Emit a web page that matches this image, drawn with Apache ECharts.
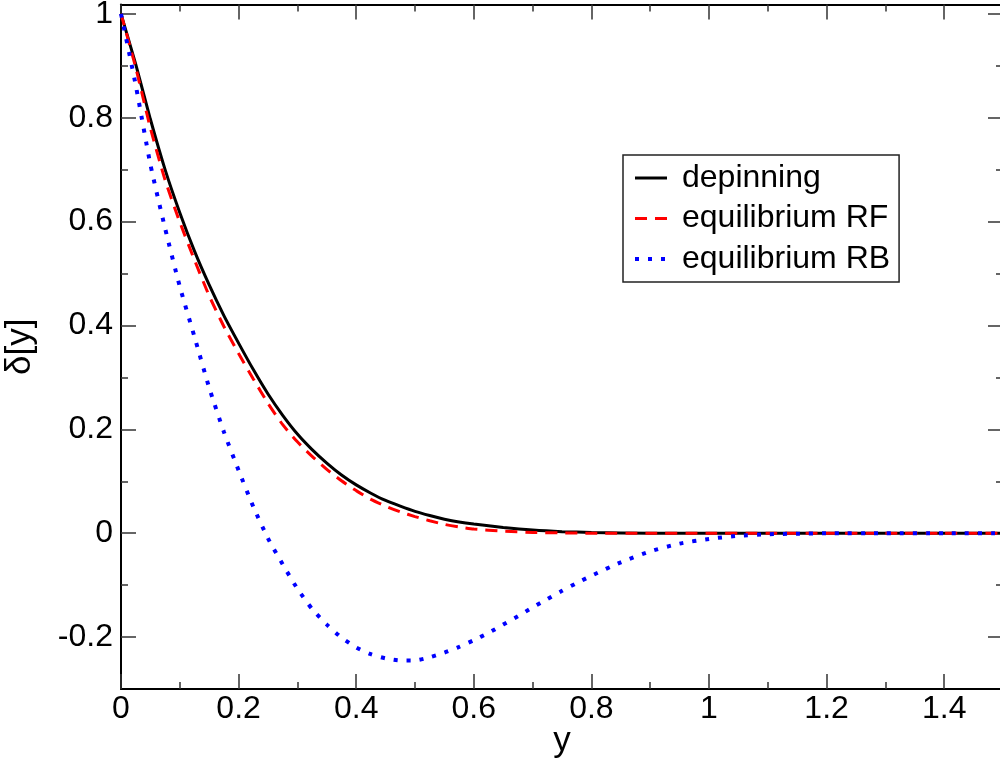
<!DOCTYPE html>
<html>
<head>
<meta charset="utf-8">
<script src="https://cdn.jsdelivr.net/npm/echarts@6/dist/echarts.min.js"></script>
<style>
html,body{margin:0;padding:0;background:#fff;}
#chart{width:1000px;height:761px;}
</style>
</head>
<body>
<div id="chart"></div>
<script>
// ---- data ----
var depinningX = [0,0.025,0.05,0.075,0.1,0.125,0.15,0.175,0.2,0.225,0.25,0.275,0.3,0.325,0.35,0.375,0.4,0.425,0.45,0.475,0.5,0.525,0.55,0.575,0.6,0.65,0.7,0.75,0.8,0.9,1.0,1.1,1.2,1.3,1.4,1.5];
var depinningY = [1.0,0.903,0.797,0.700,0.617,0.543,0.478,0.419,0.366,0.315,0.268,0.227,0.191,0.161,0.135,0.112,0.093,0.077,0.063,0.052,0.042,0.034,0.027,0.0215,0.0175,0.011,0.006,0.003,0.0015,0,0,0,0,0,0,0];

var rfX = [0,0.025,0.05,0.075,0.1,0.125,0.15,0.175,0.2,0.225,0.25,0.275,0.3,0.325,0.35,0.375,0.4,0.425,0.45,0.475,0.5,0.525,0.55,0.575,0.6,0.65,0.7,0.75,0.8,0.9,1.0,1.1,1.2,1.3,1.4,1.5];
var rfY = [1.0,0.897,0.780,0.680,0.599,0.526,0.457,0.398,0.346,0.297,0.25,0.209,0.176,0.148,0.123,0.101,0.082,0.065,0.052,0.041,0.032,0.024,0.017,0.012,0.008,0.004,0.0015,0.0005,0,0,0,0,0,0,0,0];

var rbX = [0,0.025,0.05,0.075,0.1,0.125,0.15,0.175,0.2,0.225,0.25,0.275,0.3,0.325,0.35,0.375,0.4,0.425,0.45,0.475,0.5,0.525,0.55,0.575,0.6,0.625,0.65,0.675,0.7,0.725,0.75,0.775,0.8,0.85,0.9,0.95,1.0,1.05,1.1,1.15,1.2,1.3,1.4,1.5];
var rbY = [1.0,0.863,0.71,0.587,0.475,0.378,0.28,0.195,0.121,0.051,-0.01,-0.06,-0.107,-0.146,-0.176,-0.201,-0.22,-0.233,-0.241,-0.245,-0.245,-0.239,-0.23,-0.219,-0.206,-0.192,-0.176,-0.16,-0.143,-0.127,-0.111,-0.096,-0.082,-0.056,-0.035,-0.02,-0.011,-0.005,-0.002,-0.001,0,0,0,0];

var xMajorTicks = [0,0.2,0.4,0.6,0.8,1,1.2,1.4];
var xMinorTicks = [0.1,0.3,0.5,0.7,0.9,1.1,1.3];
var yMajorTicks = [-0.2,0,0.2,0.4,0.6,0.8,1];
var yMinorTicks = [-0.1,0.1,0.3,0.5,0.7,0.9];
var seriesNames = ['depinning','equilibrium RF','equilibrium RB'];
var xTitle = 'y';
var yTitle = 'δ[y]';

function zip(xs, ys){ return xs.map(function(x,i){ return [x, ys[i]]; }); }

var FONT = 'Liberation Sans';
var X_MIN = 0, X_MAX = 1.5, Y_MIN = -0.3, Y_MAX = 1.018;
var COLORS = ['#000000','#ff0000','#0000ff'];
var STYLES = [
  {color:COLORS[0], width:3, type:'solid'},
  {color:COLORS[1], width:3, type:[12,8]},
  {color:COLORS[2], width:4, type:[4,9]}
];

function xAx(pos, values, len, showLabel, showLine){
  return {
    type:'value', position:pos, min:X_MIN, max:X_MAX,
    splitLine:{show:false},
    axisLine:{show:showLine, onZero:false, lineStyle:{color:'#000', width:2}},
    axisTick:{show:true, inside:true, length:len, customValues:values, lineStyle:{color:'#333', width:1.5}},
    axisLabel:{show:showLabel, customValues:values, margin:4, color:'#000', fontSize:32, fontFamily:FONT,
      formatter:function(v){ return String(+v.toFixed(2)); }}
  };
}
function yAx(pos, values, len, showLabel, showLine){
  return {
    type:'value', position:pos, min:Y_MIN, max:Y_MAX,
    splitLine:{show:false},
    axisLine:{show:showLine, onZero:false, lineStyle:{color:'#000', width:2}},
    axisTick:{show:true, inside:true, length:len, customValues:values, lineStyle:{color:'#333', width:1.5}},
    axisLabel:{show:showLabel, customValues:values, margin:8, color:'#000', fontSize:32, fontFamily:FONT,
      formatter:function(v){ return String(+v.toFixed(2)); }}
  };
}

var chart = echarts.init(document.getElementById('chart'), null, {renderer:'canvas'});
var xa0 = xAx('bottom', xMajorTicks, 15, true, true);
xa0.name = xTitle; xa0.nameLocation = 'middle'; xa0.nameGap = 35; xa0.nameMoveOverlap = false;
xa0.nameTextStyle = {fontSize:35, fontFamily:FONT, color:'#000'};
var ya0 = yAx('left', yMajorTicks, 15, true, true);
ya0.name = yTitle; ya0.nameLocation = 'middle'; ya0.nameGap = 83; ya0.nameMoveOverlap = false;
ya0.nameTextStyle = {fontSize:35, fontFamily:FONT, color:'#000'};

chart.setOption({
  animation:false,
  backgroundColor:'#fff',
  grid:{left:121, top:4.5, right:-3, bottom:72, containLabel:false, outerBoundsMode:'none'},
  xAxis:[
    xa0,
    xAx('bottom', xMinorTicks, 7, false, false),
    xAx('top', xMajorTicks, 15, false, true),
    xAx('top', xMinorTicks, 7, false, false)
  ],
  yAxis:[
    ya0,
    yAx('left', yMinorTicks, 7, false, false),
    yAx('right', yMajorTicks, 15, false, true),
    yAx('right', yMinorTicks, 7, false, false)
  ],
  legend:{
    show:true, orient:'vertical', left:623, top:155,
    data:seriesNames.map(function(n,i){
      return {name:n, itemStyle:{opacity:0, color:'transparent', borderWidth:0}, lineStyle:STYLES[i]};
    }),
    itemWidth:32, itemHeight:12, itemGap:8.5,
    padding:[7,9,7,10],
    borderColor:'#222', borderWidth:1.5, backgroundColor:'#fff',
    itemStyle:{opacity:0, color:'transparent', borderWidth:0},
    textStyle:{fontSize:32, lineHeight:31, fontFamily:FONT, color:'#000', padding:[0,0,0,10]},
    selectedMode:false
  },
  series:seriesNames.map(function(n,i){
    var d = [zip(depinningX, depinningY), zip(rfX, rfY), zip(rbX, rbY)][i];
    return {name:n, type:'line', data:d, symbol:'none', smooth:0.2,
      lineStyle:STYLES[i], itemStyle:{color:COLORS[i]}, z:2+i};
  })
});
</script>
</body>
</html>
